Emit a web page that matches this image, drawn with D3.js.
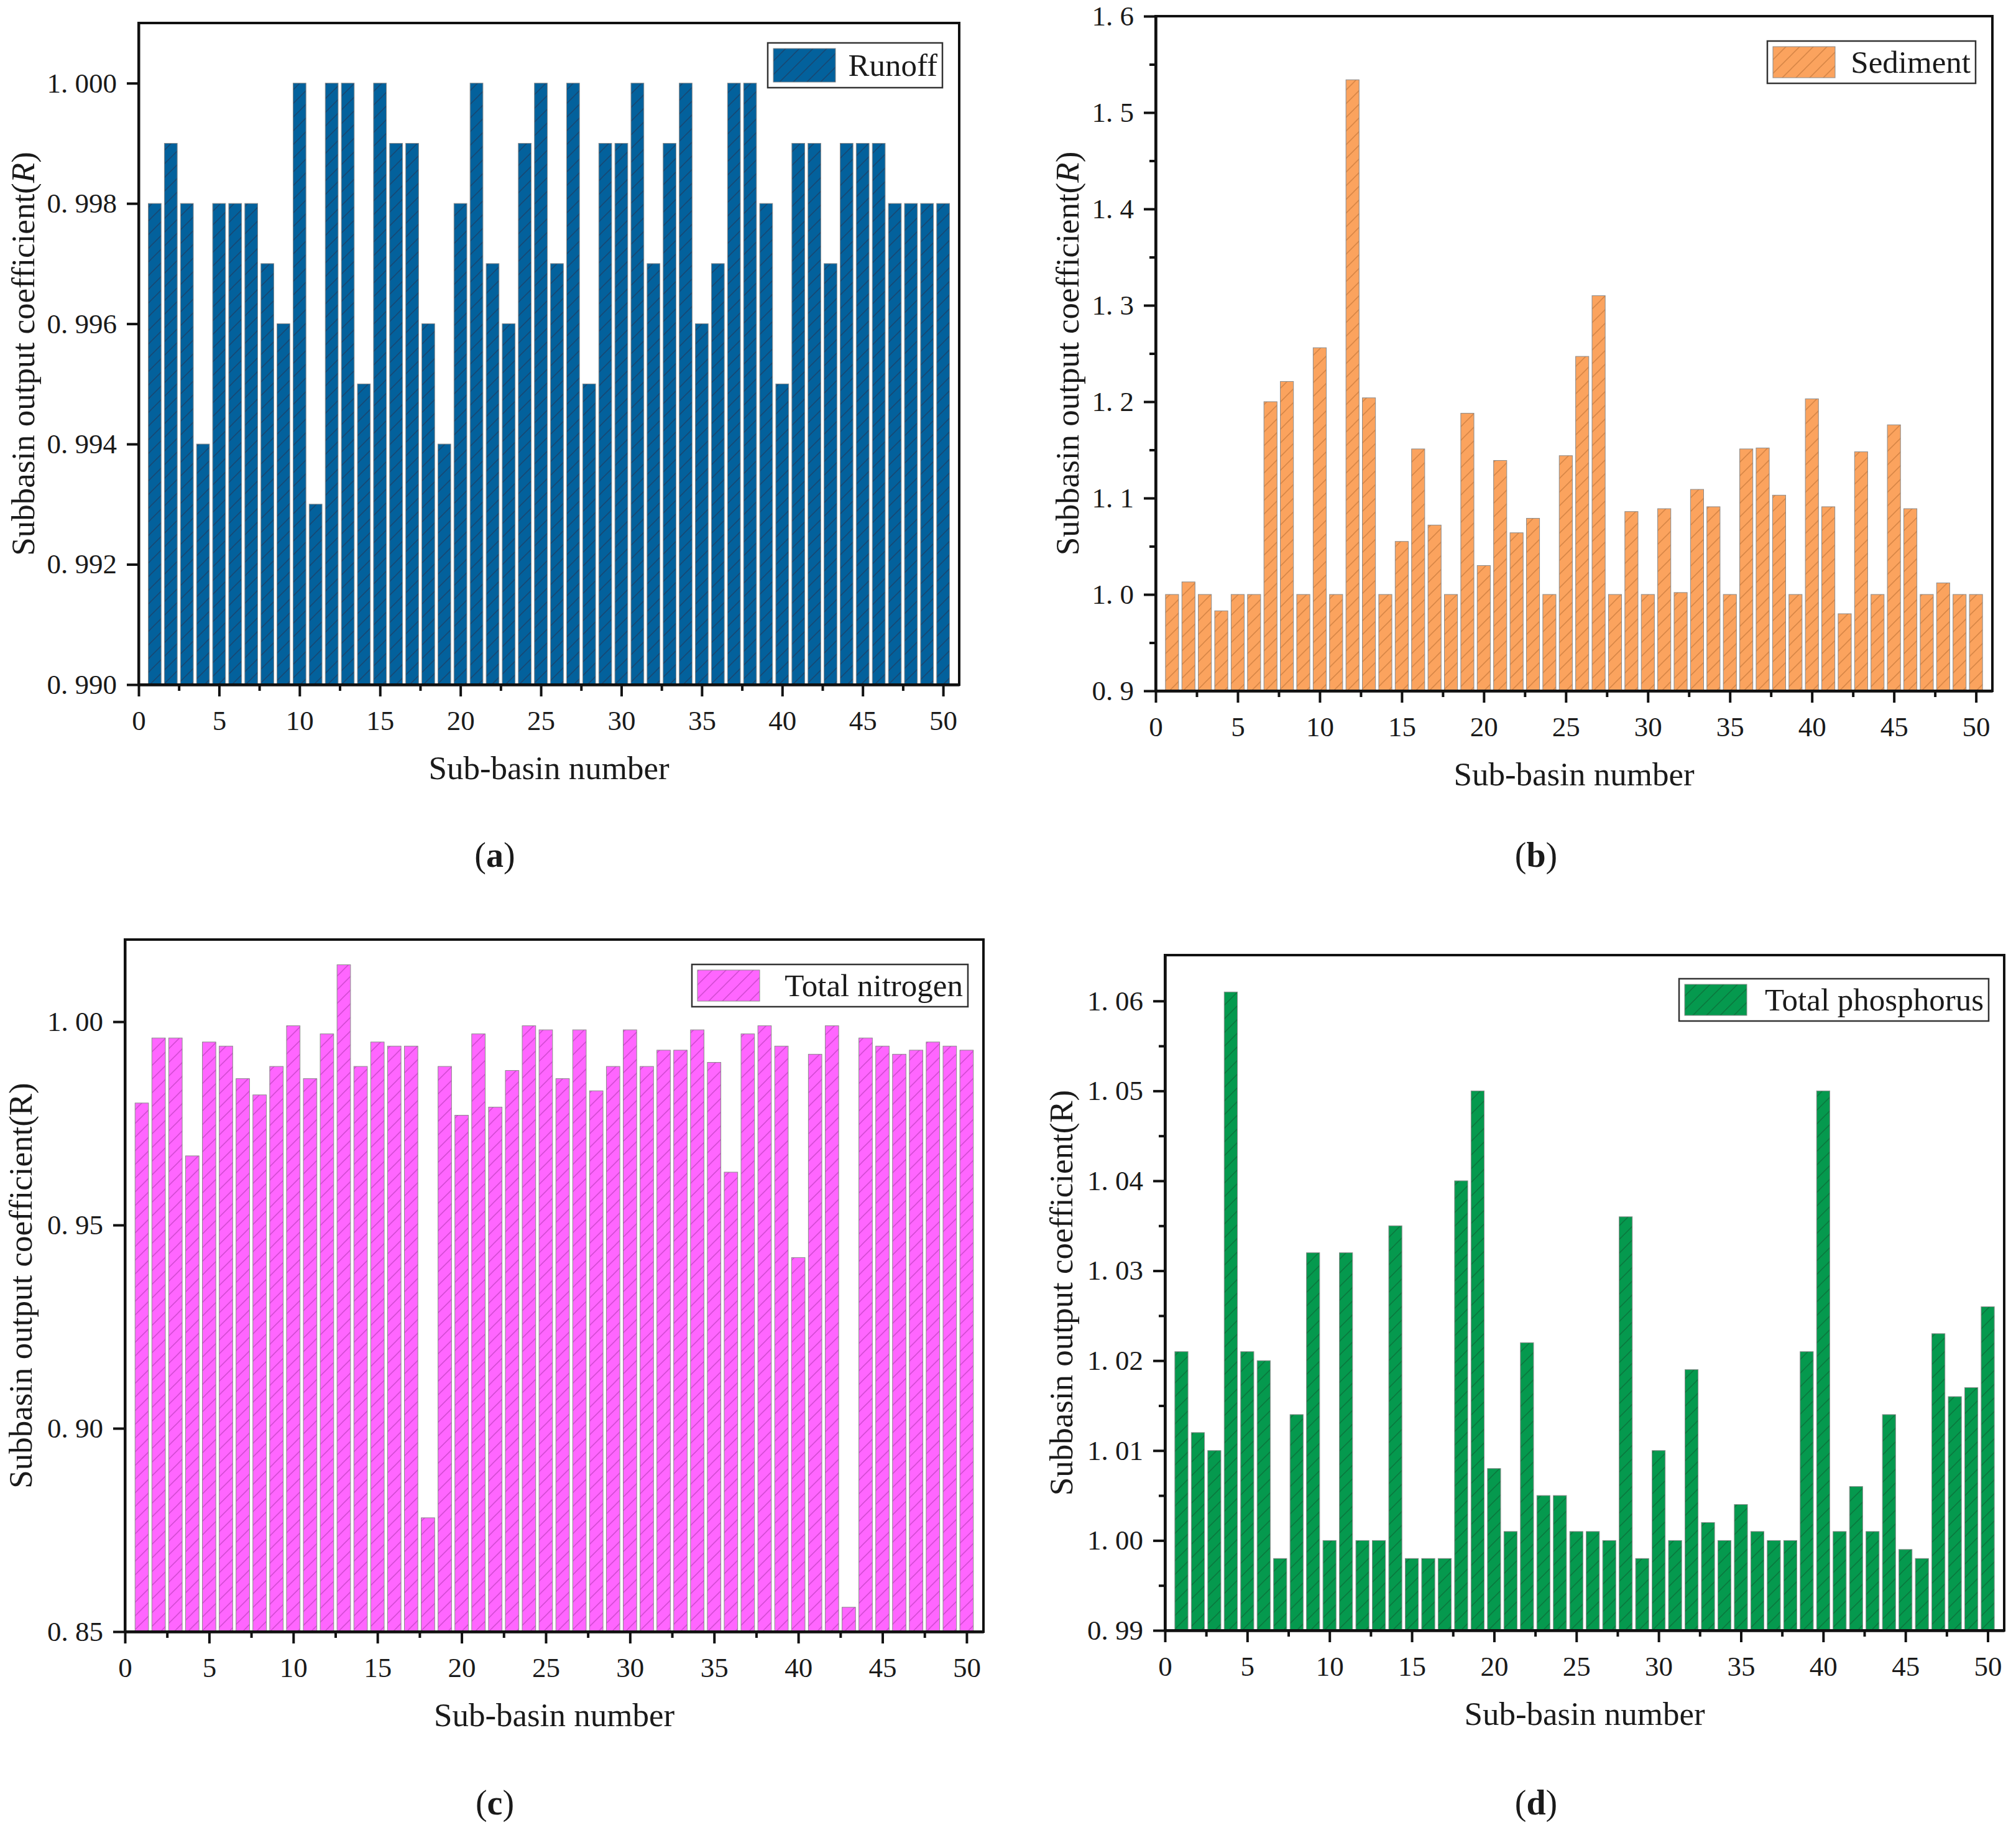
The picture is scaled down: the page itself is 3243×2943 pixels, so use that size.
<!DOCTYPE html>
<html>
<head>
<meta charset="utf-8">
<script src="https://cdn.jsdelivr.net/npm/d3@7"></script>
<style>
  body { margin: 0; background: #fff; }
  text { font-family: "Liberation Serif", "Times New Roman", serif; fill: #1a1a1a; }
</style>
</head>
<body>
<svg id="chart" width="3243" height="2943"></svg>
<script>
// Sub-basin output coefficients (sub-basins 1..50)
var runoff = [0.998, 0.999, 0.998, 0.994, 0.998, 0.998, 0.998, 0.997, 0.996, 1.000,
  0.993, 1.000, 1.000, 0.995, 1.000, 0.999, 0.999, 0.996, 0.994, 0.998,
  1.000, 0.997, 0.996, 0.999, 1.000, 0.997, 1.000, 0.995, 0.999, 0.999,
  1.000, 0.997, 0.999, 1.000, 0.996, 0.997, 1.000, 1.000, 0.998, 0.995,
  0.999, 0.999, 0.997, 0.999, 0.999, 0.999, 0.998, 0.998, 0.998, 0.998];

var sediment = [1.000, 1.013, 1.000, 0.983, 1.000, 1.000, 1.200, 1.221, 1.000, 1.256,
  1.000, 1.534, 1.204, 1.000, 1.055, 1.151, 1.072, 1.000, 1.188, 1.030,
  1.139, 1.064, 1.079, 1.000, 1.144, 1.247, 1.310, 1.000, 1.086, 1.000,
  1.089, 1.002, 1.109, 1.091, 1.000, 1.151, 1.152, 1.103, 1.000, 1.203,
  1.091, 0.980, 1.148, 1.000, 1.176, 1.089, 1.000, 1.012, 1.000, 1.000];

var nitrogen = [0.980, 0.996, 0.996, 0.967, 0.995, 0.994, 0.986, 0.982, 0.989, 0.999,
  0.986, 0.997, 1.014, 0.989, 0.995, 0.994, 0.994, 0.878, 0.989, 0.977,
  0.997, 0.979, 0.988, 0.999, 0.998, 0.986, 0.998, 0.983, 0.989, 0.998,
  0.989, 0.993, 0.993, 0.998, 0.990, 0.963, 0.997, 0.999, 0.994, 0.942,
  0.992, 0.999, 0.856, 0.996, 0.994, 0.992, 0.993, 0.995, 0.994, 0.993];

var phosphorus = [1.021, 1.012, 1.010, 1.061, 1.021, 1.020, 0.998, 1.014, 1.032, 1.000,
  1.032, 1.000, 1.000, 1.035, 0.998, 0.998, 0.998, 1.040, 1.050, 1.008,
  1.001, 1.022, 1.005, 1.005, 1.001, 1.001, 1.000, 1.036, 0.998, 1.010,
  1.000, 1.019, 1.002, 1.000, 1.004, 1.001, 1.000, 1.000, 1.021, 1.050,
  1.001, 1.006, 1.001, 1.014, 0.999, 0.998, 1.023, 1.016, 1.017, 1.026];

// tick values
var xTicks = [0, 5, 10, 15, 20, 25, 30, 35, 40, 45, 50];
var xMinor = [2.5, 7.5, 12.5, 17.5, 22.5, 27.5, 32.5, 37.5, 42.5, 47.5];
var yTicksA = [0.990, 0.992, 0.994, 0.996, 0.998, 1.000];
var yTicksB = [0.9, 1.0, 1.1, 1.2, 1.3, 1.4, 1.5, 1.6];
var yMinorB = [0.95, 1.05, 1.15, 1.25, 1.35, 1.45, 1.55];
var yTicksC = [0.85, 0.90, 0.95, 1.00];
var yTicksD = [0.99, 1.00, 1.01, 1.02, 1.03, 1.04, 1.05, 1.06];
var yMinorD = [0.995, 1.005, 1.015, 1.025, 1.035, 1.045, 1.055];

var svg = d3.select('#chart');
var defs = svg.append('defs');

// Panel layout (pixel geometry of each sub-plot)
var panels = [
  { tag: 'a', name: 'Runoff', values: runoff, fill: '#03619c', hatch: '#1d3d63',
    yDomain: [0.990, 1.001], yTicks: yTicksA, yMinor: [], fmt: '.3f', italicR: true,
    l: 223, r: 1543, t: 37, b: 1101, ylx: 37,
    leg: { x: 1235, y: 69, w: 281, h: 72 }, tagPos: [796, 1394] },
  { tag: 'b', name: 'Sediment', values: sediment, fill: '#fba35e', hatch: '#c97a3c',
    yDomain: [0.9, 1.6], yTicks: yTicksB, yMinor: yMinorB, fmt: '.1f', italicR: true,
    l: 1859, r: 3205, t: 26, b: 1111, ylx: 1717,
    leg: { x: 2843, y: 66, w: 335, h: 68 }, tagPos: [2471, 1394] },
  { tag: 'c', name: 'Total nitrogen', values: nitrogen, fill: '#ff66ff', hatch: '#c23fc2',
    yDomain: [0.85, 1.0202], yTicks: yTicksC, yMinor: [], fmt: '.2f', italicR: false,
    l: 201, r: 1582, t: 1511, b: 2624, ylx: 33,
    leg: { x: 1113, y: 1551, w: 444, h: 68 }, tagPos: [796, 2918] },
  { tag: 'd', name: 'Total phosphorus', values: phosphorus, fill: '#05994e', hatch: '#0b6a37',
    yDomain: [0.99, 1.0651], yTicks: yTicksD, yMinor: yMinorD, fmt: '.2f', italicR: false,
    l: 1874, r: 3224, t: 1536, b: 2622, ylx: 1707,
    leg: { x: 2701, y: 1574, w: 498, h: 68 }, tagPos: [2471, 2918] }
];

function makePattern(p) {
  var s = 22;
  var pat = defs.append('pattern')
    .attr('id', 'hatch-' + p.tag)
    .attr('patternUnits', 'userSpaceOnUse')
    .attr('width', s).attr('height', s);
  pat.append('rect').attr('width', s).attr('height', s).attr('fill', p.fill);
  pat.append('path')
    .attr('d', 'M-2,2 L2,-2 M0,' + s + ' L' + s + ',0 M' + (s - 2) + ',' + (s + 2) + ' L' + (s + 2) + ',' + (s - 2))
    .attr('stroke', p.hatch).attr('stroke-width', 1.6).attr('opacity', 0.7);
}

function tickText(fmt) {
  var f = d3.format(fmt);
  return function (d) { return f(d).replace('.', '. '); };
}

panels.forEach(function (p) {
  makePattern(p);

  var x = d3.scaleLinear().domain([0, 51]).range([p.l, p.r]);
  var y = d3.scaleLinear().domain(p.yDomain).range([p.b, p.t]);
  var bw = x(0.8) - x(0);
  var g = svg.append('g');

  // bars
  g.selectAll('rect.bar')
    .data(p.values)
    .enter()
    .append('rect')
    .attr('class', 'bar')
    .attr('x', function (d, i) { return x(i + 1) - bw / 2; })
    .attr('y', function (d) { return y(d); })
    .attr('width', bw)
    .attr('height', function (d) { return y(p.yDomain[0]) - y(d); })
    .attr('fill', 'url(#hatch-' + p.tag + ')')
    .attr('stroke', '#8a8a8a')
    .attr('stroke-width', 1);

  // frame
  g.append('rect')
    .attr('x', p.l).attr('y', p.t)
    .attr('width', p.r - p.l).attr('height', p.b - p.t)
    .attr('fill', 'none').attr('stroke', '#111').attr('stroke-width', 4);

  // x axis
  g.append('g').attr('transform', 'translate(0,' + p.b + ')')
    .call(d3.axisBottom(x).tickValues(xTicks).tickSize(19).tickSizeOuter(0).tickPadding(22).tickFormat(d3.format('d')));
  g.append('g').attr('transform', 'translate(0,' + p.b + ')')
    .call(d3.axisBottom(x).tickValues(xMinor).tickSize(10).tickSizeOuter(0).tickFormat(''));

  // y axis
  g.append('g').attr('transform', 'translate(' + p.l + ',0)')
    .call(d3.axisLeft(y).tickValues(p.yTicks).tickSize(19).tickSizeOuter(0).tickPadding(16).tickFormat(tickText(p.fmt)));
  if (p.yMinor.length) {
    g.append('g').attr('transform', 'translate(' + p.l + ',0)')
      .call(d3.axisLeft(y).tickValues(p.yMinor).tickSize(10).tickSizeOuter(0).tickFormat(''));
  }

  g.selectAll('.domain').attr('stroke', '#111').attr('stroke-width', 4);
  g.selectAll('.tick line').attr('stroke', '#111').attr('stroke-width', 4);
  g.selectAll('.tick text').style('font-family', '"Liberation Serif", serif')
    .style('font-size', '45px').attr('fill', '#222');

  // axis titles
  g.append('text')
    .attr('x', (p.l + p.r) / 2).attr('y', p.b + 152)
    .attr('text-anchor', 'middle')
    .style('font-size', '53px')
    .text('Sub-basin number');

  var yl = g.append('text')
    .attr('transform', 'translate(' + (p.ylx + 18) + ',' + ((p.t + p.b) / 2) + ') rotate(-90)')
    .attr('text-anchor', 'middle')
    .style('font-size', '53px');
  yl.append('tspan').text('Subbasin output coefficient(');
  yl.append('tspan').style('font-style', p.italicR ? 'italic' : 'normal').text('R');
  yl.append('tspan').text(')');

  // legend
  var L = p.leg;
  g.append('rect')
    .attr('x', L.x).attr('y', L.y).attr('width', L.w).attr('height', L.h)
    .attr('fill', '#fff').attr('stroke', '#333').attr('stroke-width', 2.5);
  g.append('rect')
    .attr('x', L.x + 9).attr('y', L.y + 9).attr('width', 100).attr('height', L.h - 18)
    .attr('fill', 'url(#hatch-' + p.tag + ')').attr('stroke', '#8a8a8a').attr('stroke-width', 1);
  g.append('text')
    .attr('x', L.x + L.w - 8).attr('y', L.y + L.h / 2 + 17)
    .attr('text-anchor', 'end')
    .style('font-size', '51px')
    .text(p.name);

  // panel tag
  var tg = svg.append('text')
    .attr('x', p.tagPos[0]).attr('y', p.tagPos[1])
    .attr('text-anchor', 'middle')
    .style('font-size', '56px');
  tg.append('tspan').text('(');
  tg.append('tspan').style('font-weight', 'bold').text(p.tag);
  tg.append('tspan').text(')');
});
</script>
</body>
</html>
